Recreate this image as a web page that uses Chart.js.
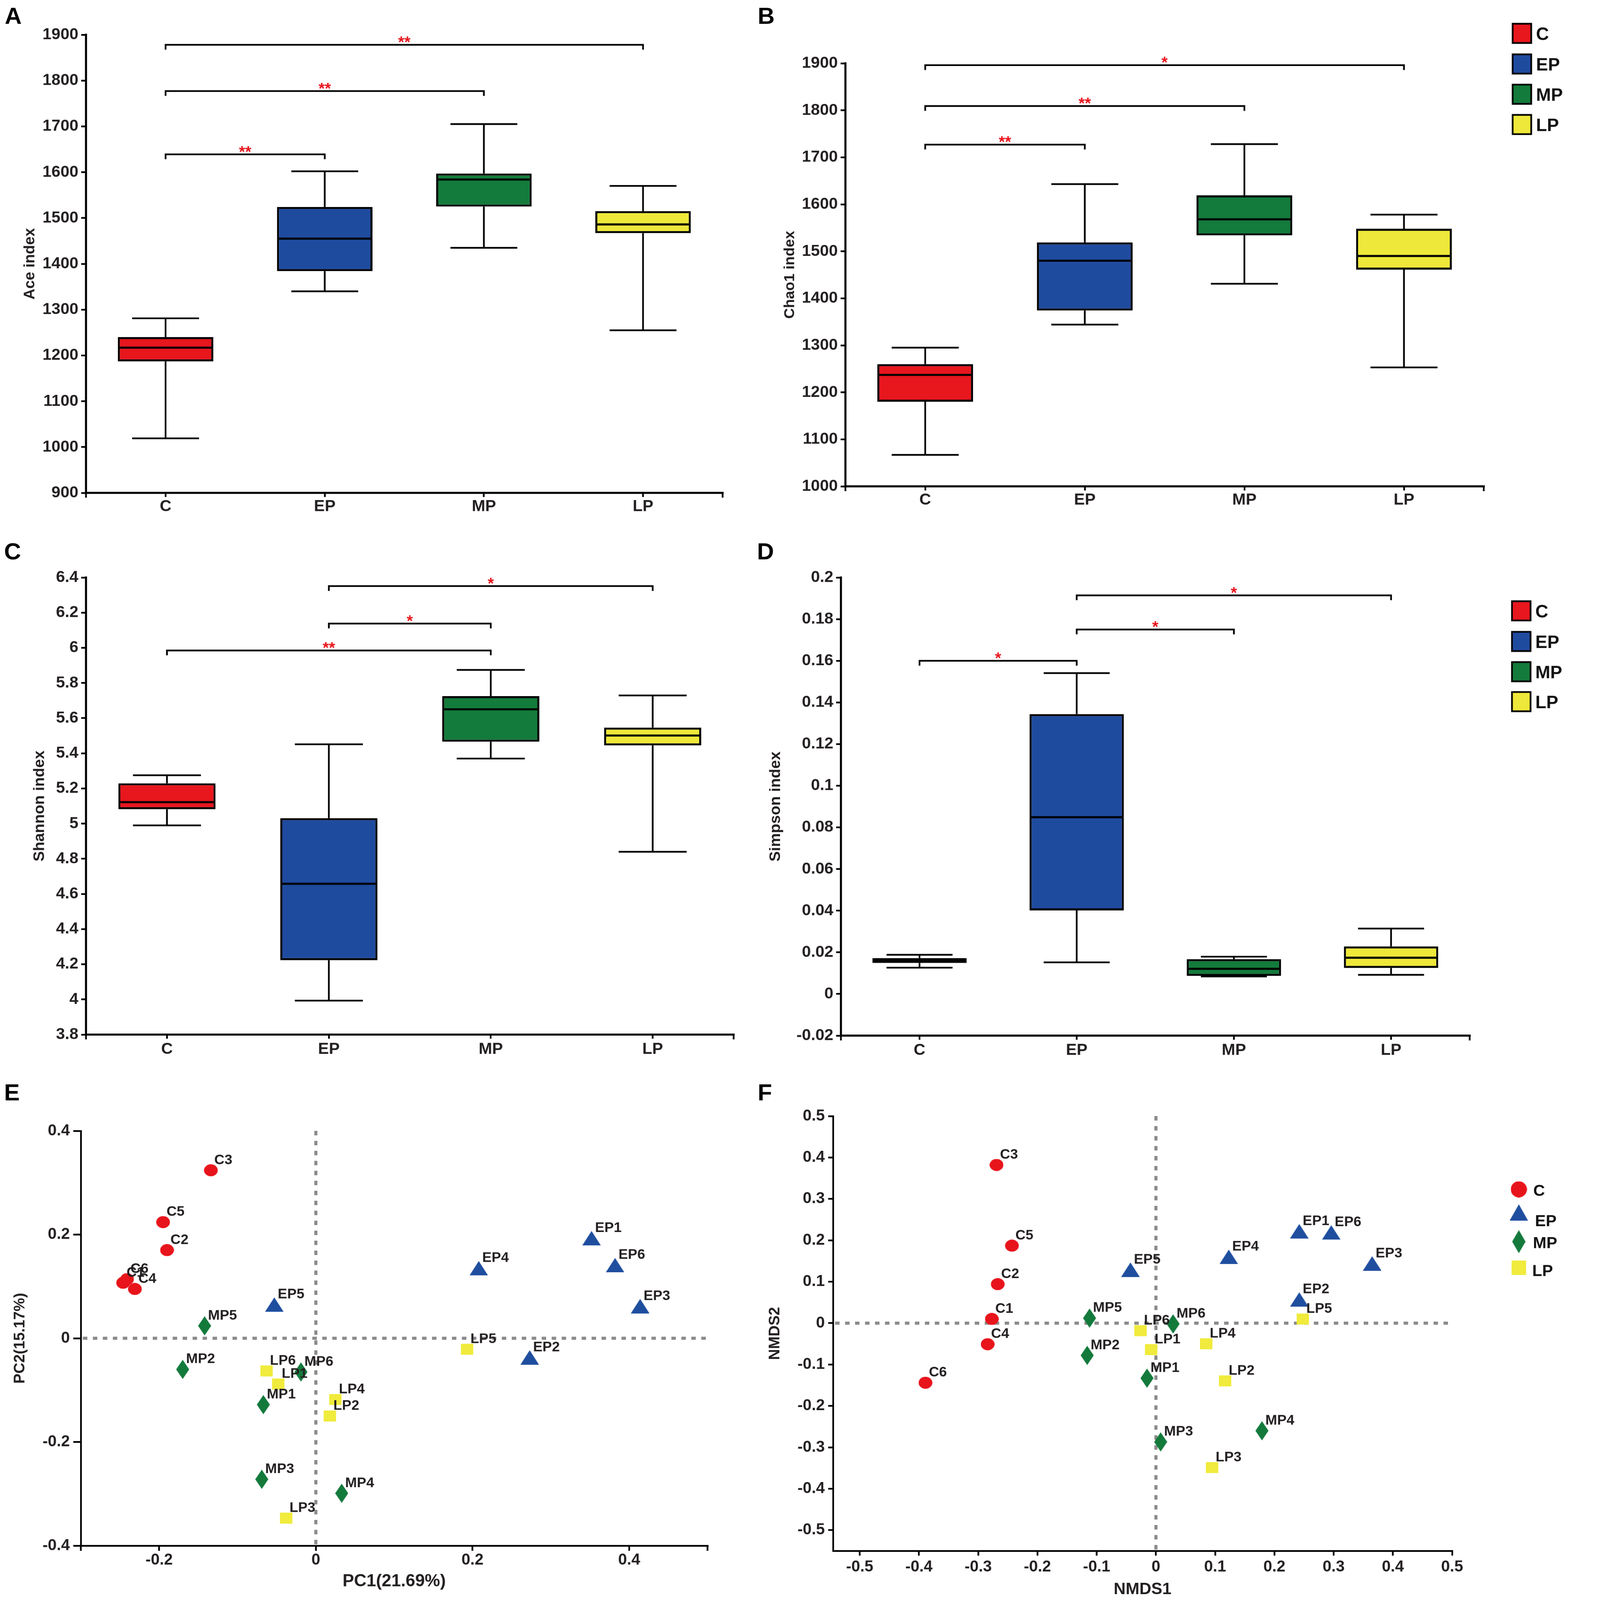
<!DOCTYPE html>
<html lang="en">
<head>
<meta charset="UTF-8">
<title>Alpha and beta diversity</title>
<script src="https://cdn.jsdelivr.net/npm/chart.js@4.4.1/dist/chart.umd.min.js"></script>
<style>
    html, body { margin: 0; padding: 0; background: #fff; overflow: hidden; }
    #page { width: 4550px; height: 4652px; position: absolute; left: 0; top: 0; transform-origin: 0 0; background: #fff; }
    canvas { position: absolute; }
    .tag {
        position: absolute;
        font-size: 68px;
        font-weight: bold;
        line-height: 1;
        color: #000;
        z-index: 2;
    }
</style>
</head>
<body>
<div id="page">
    <div class="tag" style="left:14px;top:11px">A</div>
    <div class="tag" style="left:2203px;top:11px">B</div>
    <div class="tag" style="left:12px;top:1568px">C</div>
    <div class="tag" style="left:2201px;top:1568px">D</div>
    <div class="tag" style="left:12px;top:3141px">E</div>
    <div class="tag" style="left:2203px;top:3141px">F</div>

    <canvas id="aceChart"></canvas>
    <canvas id="chaoChart"></canvas>
    <canvas id="shannonChart"></canvas>
    <canvas id="simpsonChart"></canvas>
    <canvas id="pcoaChart"></canvas>
    <canvas id="nmdsChart"></canvas>
</div>

<script>
    // groups and colours
    const groups = ['C', 'EP', 'MP', 'LP'];
    const groupColors = ['#e8161d', '#1f4b9f', '#137b3b', '#eee83a'];
    const markerColors = ['#e8141b', '#1f4e9f', '#147a3c', '#f0eb3c'];
    const sampleNo = [1, 2, 3, 4, 5, 6];

    // A - Ace index (min, q1, median, q3, max)
    const aceMin = [1019, 1340, 1435, 1255];
    const aceQ1 = [1187, 1384, 1525, 1467];
    const aceMed = [1217, 1455, 1584, 1486];
    const aceQ3 = [1240, 1524, 1597, 1515];
    const aceMax = [1281, 1602, 1705, 1570];
    const aceTicks = [900, 1000, 1100, 1200, 1300, 1400, 1500, 1600, 1700, 1800, 1900];
    const aceSigPairs = [[0, 1], [0, 2], [0, 3]];
    const aceSigLevels = [1639, 1777, 1878];
    const aceSigMarks = ['**', '**', '**'];

    // B - Chao1 index
    const chaoMin = [1067, 1344, 1431, 1253];
    const chaoQ1 = [1180, 1374, 1534, 1461];
    const chaoMed = [1237, 1480, 1568, 1490];
    const chaoQ3 = [1260, 1519, 1619, 1548];
    const chaoMax = [1295, 1643, 1728, 1578];
    const chaoTicks = [1000, 1100, 1200, 1300, 1400, 1500, 1600, 1700, 1800, 1900];
    const chaoSigPairs = [[0, 1], [0, 2], [0, 3]];
    const chaoSigLevels = [1727, 1809, 1896];
    const chaoSigMarks = ['**', '**', '*'];

    // C - Shannon index
    const shannonMin = [4.99, 3.993, 5.37, 4.84];
    const shannonQ1 = [5.082, 4.223, 5.466, 5.445];
    const shannonMed = [5.122, 4.658, 5.65, 5.501];
    const shannonQ3 = [5.229, 5.031, 5.725, 5.546];
    const shannonMax = [5.275, 5.451, 5.874, 5.729];
    const shannonTicks = [3.8, 4, 4.2, 4.4, 4.6, 4.8, 5, 5.2, 5.4, 5.6, 5.8, 6, 6.2, 6.4];
    const shannonSigPairs = [[0, 2], [1, 2], [1, 3]];
    const shannonSigLevels = [5.985, 6.138, 6.351];
    const shannonSigMarks = ['**', '*', '*'];

    // D - Simpson index
    const simpsonMin = [0.0126, 0.0152, 0.0084, 0.0092];
    const simpsonQ1 = [0.0149, 0.0401, 0.0087, 0.0125];
    const simpsonMed = [0.0161, 0.0849, 0.0121, 0.0174];
    const simpsonQ3 = [0.0172, 0.1344, 0.0167, 0.0228];
    const simpsonMax = [0.0188, 0.1541, 0.0179, 0.0314];
    const simpsonTicks = [-0.02, 0, 0.02, 0.04, 0.06, 0.08, 0.1, 0.12, 0.14, 0.16, 0.18, 0.2];
    const simpsonSigPairs = [[0, 1], [1, 2], [1, 3]];
    const simpsonSigLevels = [0.160, 0.175, 0.1914];
    const simpsonSigMarks = ['*', '*', '*'];

    // E - PCoA, samples 1..6 per group
    const pcoaX = [
        [-0.246, -0.190, -0.134, -0.231, -0.195, -0.241],
        [0.352, 0.273, 0.414, 0.208, -0.053, 0.382],
        [-0.067, -0.170, -0.069, 0.033, -0.142, -0.019],
        [-0.048, 0.018, -0.038, 0.025, 0.193, -0.063]
    ];
    const pcoaY = [
        [0.107, 0.170, 0.324, 0.095, 0.224, 0.114],
        [0.193, -0.037, 0.062, 0.135, 0.065, 0.141],
        [-0.128, -0.060, -0.272, -0.299, 0.024, -0.065],
        [-0.088, -0.150, -0.347, -0.118, -0.021, -0.063]
    ];
    const pcoaXTicks = [-0.2, 0, 0.2, 0.4];
    const pcoaYTicks = [-0.4, -0.2, 0, 0.2, 0.4];

    // F - NMDS
    const nmdsX = [
        [-0.277, -0.267, -0.269, -0.284, -0.243, -0.389],
        [0.242, 0.242, 0.365, 0.123, -0.043, 0.296],
        [-0.015, -0.116, 0.008, 0.179, -0.112, 0.029],
        [-0.008, 0.117, 0.095, 0.085, 0.248, -0.026]
    ];
    const nmdsY = [
        [0.010, 0.094, 0.382, -0.051, 0.187, -0.144],
        [0.222, 0.057, 0.144, 0.160, 0.129, 0.219],
        [-0.133, -0.078, -0.287, -0.260, 0.012, -0.002],
        [-0.064, -0.140, -0.349, -0.050, 0.010, -0.018]
    ];
    const nmdsTicks = [-0.5, -0.4, -0.3, -0.2, -0.1, 0, 0.1, 0.2, 0.3, 0.4, 0.5];

    // fit the 4550 x 4652 page into whatever viewport we get
    const page = document.getElementById('page');
    const fitScale = Math.min(window.innerWidth / 4550, window.innerHeight / 4652);
    page.style.transform = 'scale(' + fitScale + ')';

    // pick an installed Arial-like face
    function pickFont(list) {
        const g = document.createElement('canvas').getContext('2d');
        const probe = 'mmmwwwlli1900 WEP index';
        const w = f => { g.font = 'bold 40px ' + f; return g.measureText(probe).width; };
        for (const f of list) {
            if (w('"' + f + '", monospace') !== w('monospace') || w('"' + f + '", serif') !== w('serif')) {
                return '"' + f + '", sans-serif';
            }
        }
        return 'sans-serif';
    }
    const SANS = pickFont(['Liberation Sans', 'Arimo', 'Arial', 'Helvetica', 'Roboto']);
    document.querySelectorAll('.tag').forEach(t => { t.style.fontFamily = SANS; });
    const INK = '#231f20';
    Chart.defaults.color = INK;

    // canvas placement: box = page rect of canvas, area = page rect of plot area
    function place(canvas, box, area) {
        canvas.width = box.w;
        canvas.height = box.h;
        canvas.style.width = box.w + 'px';
        canvas.style.height = box.h + 'px';
        canvas.style.left = box.x + 'px';
        canvas.style.top = box.y + 'px';
        return {
            padding: { left: 0, top: area.top - box.y, right: box.x + box.w - area.right, bottom: 0 },
            yw: area.left - box.x,
            xh: box.y + box.h - area.bottom
        };
    }

    function setTicks(list) {
        return scale => { scale.ticks = list.map(v => ({ value: v })); };
    }

    function endTicks(chart, len) {
        const { ctx, chartArea: a } = chart;
        ctx.save();
        ctx.strokeStyle = '#000';
        ctx.lineWidth = 5;
        ctx.beginPath();
        ctx.moveTo(a.left, a.bottom); ctx.lineTo(a.left, a.bottom + len);
        ctx.moveTo(a.right, a.bottom); ctx.lineTo(a.right, a.bottom + len);
        ctx.stroke();
        ctx.restore();
    }

    function boxPlotPlugin(st) {
        return {
            id: 'boxPlot',
            beforeDatasetsDraw(chart) {
                const { ctx, scales: { x, y } } = chart;
                const bin = x.getPixelForValue(1) - x.getPixelForValue(0);
                const cap = bin * 0.21;
                ctx.save();
                ctx.strokeStyle = '#000';
                ctx.lineWidth = 5;
                ctx.beginPath();
                st.min.forEach((lo, i) => {
                    const cx = x.getPixelForValue(i);
                    const yMax = y.getPixelForValue(st.max[i]);
                    const yMin = y.getPixelForValue(lo);
                    ctx.moveTo(cx, yMax); ctx.lineTo(cx, y.getPixelForValue(st.q3[i]));
                    ctx.moveTo(cx, y.getPixelForValue(st.q1[i])); ctx.lineTo(cx, yMin);
                    ctx.moveTo(cx - cap, yMax); ctx.lineTo(cx + cap, yMax);
                    ctx.moveTo(cx - cap, yMin); ctx.lineTo(cx + cap, yMin);
                });
                ctx.stroke();
                ctx.restore();
            },
            afterDatasetsDraw(chart) {
                const { ctx, scales: { x, y } } = chart;
                ctx.save();
                // medians
                ctx.strokeStyle = '#000';
                ctx.lineWidth = 6;
                ctx.beginPath();
                chart.getDatasetMeta(0).data.forEach((bar, i) => {
                    const ym = y.getPixelForValue(st.med[i]);
                    ctx.moveTo(bar.x - bar.width / 2 + 3, ym);
                    ctx.lineTo(bar.x + bar.width / 2 - 3, ym);
                });
                ctx.stroke();
                // significance brackets
                ctx.lineWidth = 5;
                ctx.font = 'bold 46px ' + SANS;
                ctx.textAlign = 'center';
                ctx.textBaseline = 'alphabetic';
                st.pairs.forEach((p, k) => {
                    const x1 = x.getPixelForValue(p[0]);
                    const x2 = x.getPixelForValue(p[1]);
                    const yy = y.getPixelForValue(st.levels[k]);
                    ctx.beginPath();
                    ctx.moveTo(x1, yy + 14); ctx.lineTo(x1, yy);
                    ctx.lineTo(x2, yy); ctx.lineTo(x2, yy + 14);
                    ctx.stroke();
                    ctx.fillStyle = '#e8141b';
                    const m = ctx.measureText(st.marks[k]);
                    ctx.fillText(st.marks[k], (x1 + x2) / 2, yy - 6 - m.actualBoundingBoxDescent);
                });
                ctx.restore();
            },
            afterDraw(chart) {
                endTicks(chart, 14);
                if (!st.legend) return;
                const { ctx } = chart;
                ctx.save();
                ctx.font = 'bold 52px ' + SANS;
                ctx.textAlign = 'left';
                ctx.textBaseline = 'alphabetic';
                groups.forEach((g, i) => {
                    const cy = st.legend.ys[i];
                    ctx.fillStyle = groupColors[i];
                    ctx.fillRect(st.legend.x, cy - 28, 54, 56);
                    ctx.strokeStyle = '#000';
                    ctx.lineWidth = 5;
                    ctx.strokeRect(st.legend.x, cy - 28, 54, 56);
                    ctx.fillStyle = '#111';
                    ctx.fillText(g, st.legend.x + 68, cy + 19);
                });
                ctx.restore();
            }
        };
    }

    function boxChart(id, box, area, st) {
        const canvas = document.getElementById(id);
        const fit = place(canvas, box, area);
        const tickFont = { family: SANS, size: 47, weight: 'bold' };
        return new Chart(canvas, {
            type: 'bar',
            data: {
                labels: groups,
                datasets: [{
                    data: st.q1.map((v, i) => [v, st.q3[i]]),
                    backgroundColor: groupColors,
                    borderColor: '#000',
                    borderWidth: 6,
                    borderSkipped: false,
                    barPercentage: 0.6,
                    categoryPercentage: 1
                }]
            },
            options: {
                responsive: false,
                animation: false,
                devicePixelRatio: 1,
                events: [],
                layout: { padding: fit.padding },
                plugins: { legend: { display: false }, tooltip: { enabled: false } },
                scales: {
                    x: {
                        offset: true,
                        grid: { offset: false, drawOnChartArea: false, color: '#000', lineWidth: 5, tickLength: 12 },
                        border: { color: '#000', width: 6 },
                        ticks: { font: tickFont, padding: st.xPad, maxRotation: 0, autoSkip: false },
                        afterFit(s) { s.height = fit.xh; }
                    },
                    y: {
                        min: st.ticks[0],
                        max: st.ticks[st.ticks.length - 1],
                        afterBuildTicks: setTicks(st.ticks),
                        grid: { drawOnChartArea: false, color: '#000', lineWidth: 5, tickLength: 14 },
                        border: { color: '#000', width: 6 },
                        ticks: { font: tickFont, padding: 8, callback: v => String(v) },
                        title: {
                            display: true, text: st.title, color: INK,
                            font: { family: SANS, size: st.titleSize, weight: 'bold' },
                            padding: { top: st.titlePad, bottom: 0 }
                        },
                        afterFit(s) { s.width = fit.yw; }
                    }
                }
            },
            plugins: [boxPlotPlugin(st)]
        });
    }

    // marker images
    function marker(kind, w, h, color) {
        const c = document.createElement('canvas');
        c.width = w; c.height = h;
        const g = c.getContext('2d');
        g.fillStyle = color;
        g.beginPath();
        if (kind === 'circle') g.ellipse(w / 2, h / 2, w / 2, h / 2, 0, 0, Math.PI * 2);
        else if (kind === 'triangle') { g.moveTo(w / 2, 0); g.lineTo(w, h); g.lineTo(0, h); g.closePath(); }
        else if (kind === 'diamond') { g.moveTo(w / 2, 0); g.lineTo(w, h / 2); g.lineTo(w / 2, h); g.lineTo(0, h / 2); g.closePath(); }
        else g.rect(0, 0, w, h);
        g.fill();
        return c;
    }
    const shapes = ['circle', 'triangle', 'diamond', 'square'];
    const plotSizes = [[40, 35], [54, 42], [38, 56], [36, 32]];
    const legendSizes = [[47, 47], [53, 47], [39, 67], [42, 42]];
    const plotMarkers = shapes.map((s, i) => marker(s, plotSizes[i][0], plotSizes[i][1], markerColors[i]));
    const legendMarkers = shapes.map((s, i) => marker(s, legendSizes[i][0], legendSizes[i][1], markerColors[i]));

    function scatterPlugin(opt) {
        return {
            id: 'ordination',
            beforeDatasetsDraw(chart) {
                const { ctx, chartArea: a, scales: { x, y } } = chart;
                const x0 = x.getPixelForValue(0);
                const y0 = y.getPixelForValue(0);
                ctx.save();
                ctx.strokeStyle = '#8a8a8a';
                ctx.lineWidth = 9;
                ctx.setLineDash([13, 16]);
                ctx.beginPath();
                ctx.moveTo(x0, a.top); ctx.lineTo(x0, a.bottom - 4);
                ctx.moveTo(a.left + 6, y0); ctx.lineTo(a.right, y0);
                ctx.stroke();
                ctx.restore();
            },
            afterDatasetsDraw(chart) {
                const { ctx } = chart;
                ctx.save();
                ctx.font = 'bold 41px ' + SANS;
                ctx.fillStyle = INK;
                ctx.textAlign = 'left';
                ctx.textBaseline = 'alphabetic';
                chart.data.datasets.forEach((ds, di) => {
                    chart.getDatasetMeta(di).data.forEach((pt, i) => {
                        ctx.fillText(groups[di] + sampleNo[i], pt.x + 10, pt.y - 18);
                    });
                });
                ctx.restore();
            },
            afterDraw(chart) {
                if (opt.endTicks) endTicks(chart, 15);
                if (!opt.legend) return;
                const { ctx } = chart;
                const L = opt.legend;
                ctx.save();
                ctx.font = 'bold 47px ' + SANS;
                ctx.fillStyle = '#111';
                ctx.textAlign = 'left';
                ctx.textBaseline = 'alphabetic';
                groups.forEach((g, i) => {
                    const img = legendMarkers[i];
                    ctx.drawImage(img, L.mx - img.width / 2, L.my[i] - img.height / 2);
                    ctx.fillText(g, L.tx[i], L.ty[i] + 17);
                });
                ctx.restore();
            }
        };
    }

    function scatterChart(id, box, area, opt) {
        const canvas = document.getElementById(id);
        const fit = place(canvas, box, area);
        const tickFont = { family: SANS, size: 46, weight: 'bold' };
        return new Chart(canvas, {
            type: 'scatter',
            data: {
                datasets: groups.map((g, gi) => ({
                    label: g,
                    data: opt.xs[gi].map((v, i) => ({ x: v, y: opt.ys[gi][i] })),
                    pointStyle: plotMarkers[gi],
                    pointRadius: 20,
                    pointHoverRadius: 20
                }))
            },
            options: {
                responsive: false,
                animation: false,
                devicePixelRatio: 1,
                events: [],
                layout: { padding: fit.padding },
                plugins: { legend: { display: false }, tooltip: { enabled: false } },
                scales: {
                    x: {
                        type: 'linear',
                        min: opt.xMin, max: opt.xMax,
                        afterBuildTicks: setTicks(opt.xTicks),
                        grid: { drawOnChartArea: false, color: '#000', lineWidth: 5, tickLength: opt.xTick },
                        border: { color: '#000', width: 5 },
                        ticks: { font: tickFont, padding: opt.xPad, maxRotation: 0, autoSkip: false, callback: v => String(v) },
                        title: {
                            display: true, text: opt.xTitle, color: INK,
                            font: { family: SANS, size: opt.xTitleSize, weight: 'bold' },
                            padding: { top: 0, bottom: opt.xTitlePad }
                        },
                        afterFit(s) { s.height = fit.xh; }
                    },
                    y: {
                        type: 'linear',
                        min: opt.yMin, max: opt.yMax,
                        afterBuildTicks: setTicks(opt.yTicks),
                        grid: { drawOnChartArea: false, color: '#000', lineWidth: 5, tickLength: opt.yTick },
                        border: { color: '#000', width: 5 },
                        ticks: { font: tickFont, padding: 10, callback: v => String(v) },
                        title: {
                            display: true, text: opt.yTitle, color: INK,
                            font: { family: SANS, size: 44, weight: 'bold' },
                            padding: { top: opt.yTitlePad, bottom: 0 }
                        },
                        afterFit(s) { s.width = fit.yw; }
                    }
                }
            },
            plugins: [scatterPlugin(opt)]
        });
    }

    boxChart('aceChart', { x: 0, y: 0, w: 2200, h: 1545 }, { left: 250, top: 101, right: 2101, bottom: 1433 }, {
        min: aceMin, q1: aceQ1, med: aceMed, q3: aceQ3, max: aceMax, ticks: aceTicks,
        pairs: aceSigPairs, levels: aceSigLevels, marks: aceSigMarks,
        title: 'Ace index', titleSize: 44, titlePad: 61, xPad: 0
    });

    boxChart('chaoChart', { x: 2200, y: 0, w: 2350, h: 1545 }, { left: 2458, top: 184, right: 4314, bottom: 1414 }, {
        min: chaoMin, q1: chaoQ1, med: chaoMed, q3: chaoQ3, max: chaoMax, ticks: chaoTicks,
        pairs: chaoSigPairs, levels: chaoSigLevels, marks: chaoSigMarks,
        title: 'Chao1 index', titleSize: 43, titlePad: 71, xPad: 0,
        legend: { x: 2198, ys: [97, 186, 274, 362] }
    });

    boxChart('shannonChart', { x: 0, y: 1545, w: 2200, h: 1560 }, { left: 250, top: 1679, right: 2133, bottom: 3008 }, {
        min: shannonMin, q1: shannonQ1, med: shannonMed, q3: shannonQ3, max: shannonMax, ticks: shannonTicks,
        pairs: shannonSigPairs, levels: shannonSigLevels, marks: shannonSigMarks,
        title: 'Shannon index', titleSize: 45, titlePad: 89, xPad: 3
    });

    boxChart('simpsonChart', { x: 2200, y: 1545, w: 2350, h: 1560 }, { left: 2445, top: 1679, right: 4273, bottom: 3011 }, {
        min: simpsonMin, q1: simpsonQ1, med: simpsonMed, q3: simpsonQ3, max: simpsonMax, ticks: simpsonTicks,
        pairs: simpsonSigPairs, levels: simpsonSigLevels, marks: simpsonSigMarks,
        title: 'Simpson index', titleSize: 45, titlePad: 29, xPad: 3,
        legend: { x: 2196, ys: [231, 320, 408, 495] }
    });

    scatterChart('pcoaChart', { x: 0, y: 3105, w: 2200, h: 1547 }, { left: 235, top: 3288, right: 2057, bottom: 4494 }, {
        xs: pcoaX, ys: pcoaY,
        xMin: -0.3, xMax: 0.5, yMin: -0.4, yMax: 0.4,
        xTicks: pcoaXTicks, yTicks: pcoaYTicks,
        xTick: 15, yTick: 22, xPad: 0,
        xTitle: 'PC1(21.69%)', xTitleSize: 50, xTitlePad: 24,
        yTitle: 'PC2(15.17%)', yTitlePad: 32,
        endTicks: true
    });

    scatterChart('nmdsChart', { x: 2200, y: 3105, w: 2350, h: 1547 }, { left: 2422, top: 3245, right: 4222, bottom: 4509 }, {
        xs: nmdsX, ys: nmdsY,
        xMin: -0.545, xMax: 0.5, yMin: -0.55, yMax: 0.5,
        xTicks: nmdsTicks, yTicks: nmdsTicks,
        xTick: 14, yTick: 14, xPad: 6,
        xTitle: 'NMDS1', xTitleSize: 48, xTitlePad: 1,
        yTitle: 'NMDS2', yTitlePad: 27,
        legend: { mx: 2216, my: [353, 420, 505, 581], tx: [2258, 2263, 2257, 2255], ty: [355, 443, 507, 588] }
    });
</script>
</body>
</html>
